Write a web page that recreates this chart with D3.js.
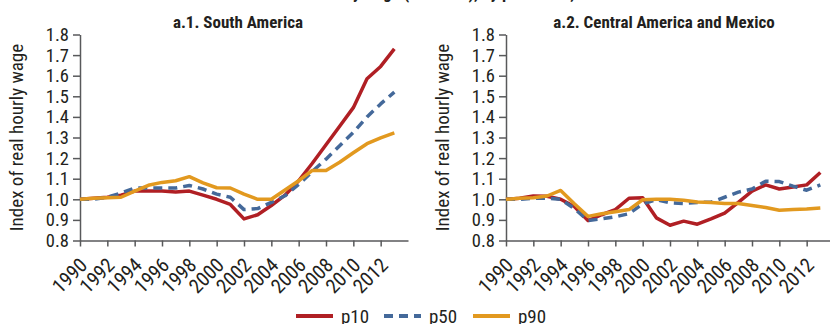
<!DOCTYPE html>
<html>
<head>
<meta charset="utf-8">
<script src="https://cdn.jsdelivr.net/npm/d3@7"></script>
<style>
  body { margin: 0; background: #fff; }
  svg text { font-family: "Liberation Sans Narrow", "Roboto Condensed", "Liberation Sans", Arial, sans-serif; fill: #231f20; }
</style>
</head>
<body>
<svg id="chart" width="830" height="324"></svg>
<script>
var years = d3.range(1990, 2014);
var yTicks = [0.8, 0.9, 1.0, 1.1, 1.2, 1.3, 1.4, 1.5, 1.6, 1.7, 1.8];
var xTicks = [1990, 1992, 1994, 1996, 1998, 2000, 2002, 2004, 2006, 2008, 2010, 2012];

// a.1 South America
var saP10 = [1.00, 1.005, 1.01, 1.02, 1.04, 1.04, 1.04, 1.035, 1.04, 1.02, 1.00, 0.975,
             0.905, 0.925, 0.97, 1.02, 1.09, 1.175, 1.265, 1.355, 1.445, 1.585, 1.645, 1.73];
var saP50 = [1.00, 1.00, 1.01, 1.03, 1.055, 1.055, 1.055, 1.055, 1.067, 1.05, 1.025, 1.01,
             0.95, 0.955, 0.985, 1.017, 1.072, 1.135, 1.195, 1.26, 1.325, 1.40, 1.463, 1.52];
var saP90 = [1.00, 1.005, 1.008, 1.01, 1.04, 1.068, 1.082, 1.09, 1.11, 1.08, 1.056, 1.055,
             1.025, 1.00, 1.00, 1.045, 1.09, 1.14, 1.14, 1.18, 1.226, 1.27, 1.298, 1.322];

// a.2 Central America and Mexico
var caP10 = [1.00, 1.005, 1.016, 1.015, 1.00, 0.965, 0.897, 0.925, 0.95, 1.005, 1.008, 0.91,
             0.874, 0.894, 0.879, 0.905, 0.933, 0.985, 1.04, 1.07, 1.05, 1.06, 1.07, 1.13];
var caP50 = [1.00, 1.00, 1.005, 1.005, 1.00, 0.955, 0.897, 0.905, 0.915, 0.93, 0.978, 0.998,
             0.983, 0.98, 0.985, 0.986, 1.01, 1.035, 1.05, 1.088, 1.086, 1.064, 1.044, 1.07];
var caP90 = [1.00, 1.005, 1.008, 1.016, 1.043, 0.978, 0.917, 0.93, 0.94, 0.95, 0.998, 1.00,
             1.00, 0.995, 0.987, 0.985, 0.98, 0.98, 0.97, 0.96, 0.947, 0.95, 0.953, 0.958];

var seriesNames = ["p10", "p50", "p90"];
var seriesColors = ["#b01f24", "#44699a", "#e2991f"];
var seriesDash = [null, "9,6", null];

var panels = [
  { title: "a.1. South America", data: [saP10, saP50, saP90], left: 80 },
  { title: "a.2. Central America and Mexico", data: [caP10, caP50, caP90], left: 506 }
];

var svg = d3.select("#chart");
var plotTop = 34.5, plotBottom = 240.5;

// figure title, cut off at the top edge like in the source
svg.append("text")
  .attr("x", 445).attr("y", -1)
  .attr("text-anchor", "middle")
  .style("font-weight", "bold").style("font-size", "17px")
  .text("Hourly wage (1990 = 1), by percentile,");

panels.forEach(function(p) {
  var x = d3.scaleLinear().domain([1990, 2014]).range([p.left, p.left + 328]);
  var y = d3.scaleLinear().domain([0.8, 1.8]).range([plotBottom, plotTop]);
  var g = svg.append("g");

  var xAxis = g.append("g")
    .attr("transform", "translate(0," + plotBottom + ")")
    .call(d3.axisBottom(x).tickValues(xTicks).tickFormat(d3.format("d")).tickSize(6).tickSizeOuter(0));
  xAxis.selectAll("text")
    .attr("text-anchor", "end")
    .attr("x", 0).attr("y", 0).attr("dy", 0)
    .attr("transform", "translate(8,26) rotate(-45)")
    .style("font-size", "20px");

  var yAxis = g.append("g")
    .attr("transform", "translate(" + p.left + ",0)")
    .call(d3.axisLeft(y).tickValues(yTicks).tickFormat(d3.format(".1f")).tickSize(7).tickSizeOuter(0));
  yAxis.selectAll("text").style("font-size", "18.5px").attr("x", -11);

  g.selectAll(".domain, .tick line").attr("stroke", "#58595b").attr("stroke-width", 1.5);

  g.append("text")
    .attr("transform", "translate(" + (p.left - 57) + "," + ((plotTop + plotBottom) / 2) + ") rotate(-90)")
    .attr("text-anchor", "middle")
    .style("font-size", "19px")
    .text("Index of real hourly wage");

  g.append("text")
    .attr("x", p.left + 158).attr("y", 28)
    .attr("text-anchor", "middle")
    .style("font-weight", "bold").style("font-size", "17px")
    .text(p.title);

  var line = d3.line()
    .x(function(d, i) { return x(years[i]); })
    .y(function(d) { return y(d); });

  p.data.forEach(function(vals, k) {
    g.append("path")
      .datum(vals)
      .attr("d", line)
      .attr("fill", "none")
      .attr("stroke", seriesColors[k])
      .attr("stroke-width", 3.5)
      .attr("stroke-dasharray", seriesDash[k])
      .attr("stroke-linejoin", "round");
  });
});

// legend
var legX = [296, 384, 473];
seriesNames.forEach(function(name, k) {
  var lg = svg.append("g").attr("transform", "translate(" + legX[k] + ",316)");
  lg.append("line")
    .attr("x1", 0).attr("x2", 37).attr("y1", 0).attr("y2", 0)
    .attr("stroke", seriesColors[k]).attr("stroke-width", 4)
    .attr("stroke-dasharray", seriesDash[k]);
  lg.append("text")
    .attr("x", 45).attr("y", 7)
    .style("font-size", "19px")
    .text(name);
});
</script>
</body>
</html>
